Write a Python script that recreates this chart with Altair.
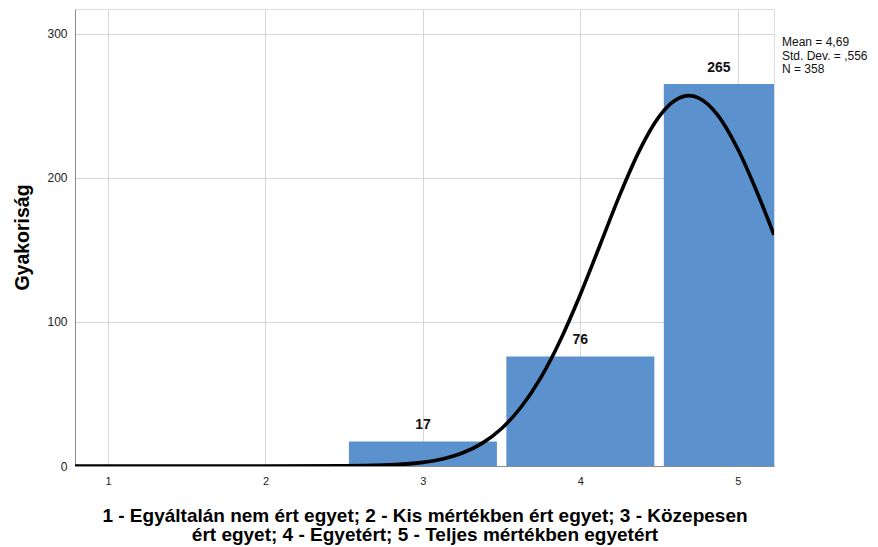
import altair as alt
import pandas as pd

# Data
categories = [3, 4, 5]
counts = [17, 76, 265]
bar_half_width = 0.47

curve_x = [0.79, 1.5, 2.0, 2.5, 2.75, 3.0, 3.125, 3.25, 3.375, 3.5, 3.625, 3.75, 3.875,
           4.0, 4.125, 4.25, 4.375, 4.5, 4.6, 4.69, 4.75, 4.875, 5.0, 5.125, 5.23]
curve_y = [0, 0, 0, 0.11, 0.58, 2.5, 4.9, 9.0, 15.7, 26.0, 41.1, 61.5, 87.8,
           119.0, 153.3, 187.9, 218.8, 242.3, 253.5, 256.9, 255.4, 243.1, 219.9, 189.2, 160.3]

x_ticks = [1, 2, 3, 4, 5]
y_ticks = [0, 100, 200, 300]
x_domain = [0.79, 5.23]
y_domain = [0, 317]

stats_lines = ["Mean = 4,69", "Std. Dev. = ,556", "N = 358"]
x_title = ["1 - Egyáltalán nem ért egyet; 2 - Kis mértékben ért egyet; 3 - Közepesen",
           "ért egyet; 4 - Egyetért; 5 - Teljes mértékben egyetért"]
y_title = "Gyakoriság"

FONT = "Liberation Sans"
BAR_COLOR = "#5b91cc"

bars = pd.DataFrame({
    "cat": categories,
    "count": counts,
    "x0": [c - bar_half_width for c in categories],
    "x1": [c + bar_half_width for c in categories],
})
bars["xmid"] = [(max(a, x_domain[0]) + min(b, x_domain[1])) / 2 for a, b in zip(bars["x0"], bars["x1"])]
curve = pd.DataFrame({"x": curve_x, "y": curve_y})

xscale = alt.Scale(domain=x_domain, nice=False, zero=False)
yscale = alt.Scale(domain=y_domain, nice=False)

xaxis = alt.Axis(values=x_ticks, format="d", grid=True, gridColor="#d6d6d6", tickSize=0,
                 domainColor="#8c8c8c", domainWidth=1, labelFontSize=11, labelColor="#222",
                 labelFont=FONT, labelPadding=9, title=x_title, titleFont=FONT,
                 titleFontSize=19, titleFontWeight="bold", titleColor="#000",
                 titleY=40, titleLineHeight=19, titleBaseline="top")
yaxis = alt.Axis(values=y_ticks, grid=True, gridColor="#d6d6d6", tickSize=0,
                 domainColor="#8c8c8c", domainWidth=1, labelFontSize=12, labelColor="#222",
                 labelFont=FONT, labelPadding=8, title=y_title, titleFont=FONT,
                 titleFontSize=19.5, titleFontWeight="bold", titleColor="#000",
                 titleX=-43, titleY=228, titleAngle=270, titleBaseline="bottom",
                 titleAlign="center")

bar_layer = alt.Chart(bars).mark_rect(color=BAR_COLOR, clip=True).encode(
    x=alt.X("x0:Q", scale=xscale, axis=xaxis),
    x2="x1:Q",
    y=alt.Y("count:Q", scale=yscale, axis=yaxis),
    y2=alt.datum(0),
)

label_layer = alt.Chart(bars).mark_text(
    font=FONT, fontSize=14, fontWeight="bold", color="#111", baseline="middle", dy=-16
).encode(
    x=alt.X("xmid:Q", scale=xscale),
    y=alt.Y("count:Q", scale=yscale),
    text="count:Q",
)

curve_layer = alt.Chart(curve).mark_line(
    color="#000", strokeWidth=3.6, interpolate="monotone", clip=True
).encode(
    x=alt.X("x:Q", scale=xscale),
    y=alt.Y("y:Q", scale=yscale),
)

stats_layer = alt.Chart(pd.DataFrame({"t": [0]})).mark_text(
    font=FONT, fontSize=12, color="#111", align="left", baseline="top", lineHeight=13.5
).encode(
    x=alt.value(707),
    y=alt.value(28),
    text=alt.value(stats_lines),
)

chart = alt.layer(bar_layer, curve_layer, label_layer, stats_layer).properties(
    width=699,
    height=457,
    autosize=alt.AutoSizeParams(type="none"),
    padding={"left": 67, "top": 1, "right": 94, "bottom": 80},
).configure_view(stroke=None).configure(background="white")

chart.save("out.html", embed_options={"renderer": "svg", "actions": False})
